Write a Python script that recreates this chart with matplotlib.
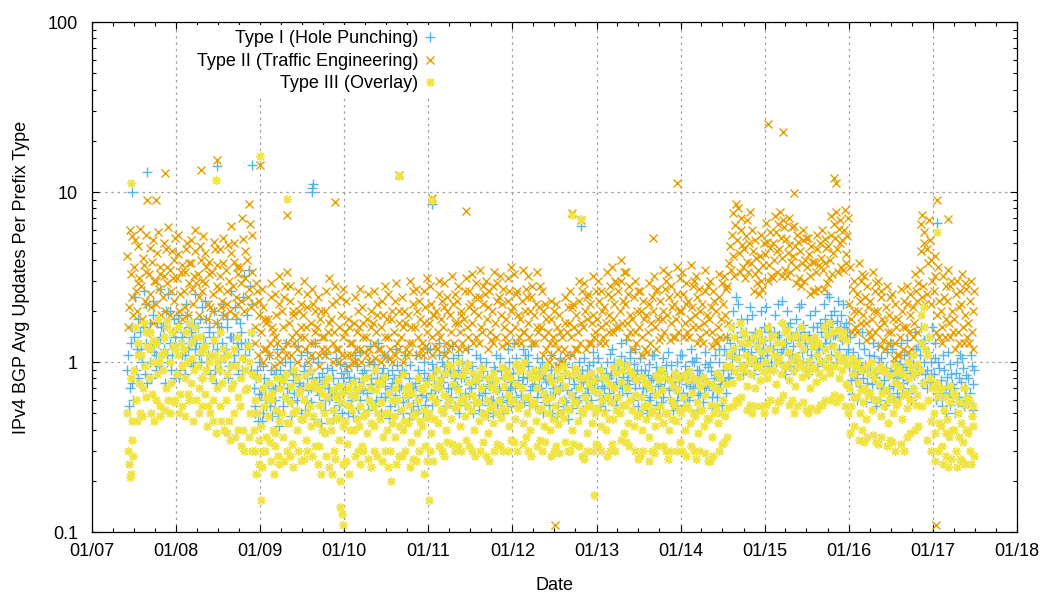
import datetime as dt
import matplotlib
matplotlib.use('Agg')
import matplotlib.pyplot as plt
import matplotlib.dates as mdates
from matplotlib.ticker import LogLocator, FixedLocator, NullFormatter

# readings, four per month per set
# set a: days 4, 11, 18, 25   set b: days 8, 15, 22, 28
# 2007 lists start in June, 2017 lists end in June
days_a = [4, 11, 18, 25]
days_b = [8, 15, 22, 28]

# Type I (Hole Punching)
t1_2007 = [0.9, 0.55, 1.3, 0.75, 1.4, 0.9, 1.8, 1.1, 1.2, 1.6, 0.85, 2.2, 1.5, 1.0, 1.3, 1.9,
           1.1, 1.7, 0.95, 1.4, 1.6, 1.2, 2.0, 1.0, 1.3, 0.9, 1.5, 1.8]
t1_2008 = [1.2, 1.7, 0.9, 1.4, 1.5, 1.1, 1.9, 1.3, 1.0, 1.4, 1.7, 1.2, 1.6, 1.2, 1.0, 2.1,
           1.3, 1.8, 1.1, 1.5, 1.1, 1.4, 0.9, 1.7, 1.5, 1.0, 1.3, 1.9, 1.2, 1.6, 0.95, 1.4,
           1.4, 1.1, 1.8, 1.2, 1.7, 1.3, 2.4, 1.1, 1.9, 1.2, 2.8, 1.5, 0.7, 0.55, 0.9, 0.65]
t1_2009 = [0.65, 0.5, 0.8, 0.6, 0.75, 0.55, 0.9, 0.68, 0.6, 0.85, 0.5, 0.72, 0.8, 0.62, 1.0, 0.7,
           0.7, 0.9, 0.58, 0.78, 0.85, 0.66, 0.75, 1.1, 0.72, 0.95, 0.6, 0.8, 0.9, 0.7, 1.05, 0.76,
           0.68, 0.82, 0.56, 0.74, 0.78, 0.6, 0.92, 0.7, 0.64, 0.8, 0.52, 0.7, 0.74, 0.58, 0.86, 0.66]
t1_2010 = [0.7, 0.88, 0.56, 0.76, 0.62, 0.8, 0.7, 0.95, 0.76, 0.6, 0.86, 0.68, 0.84, 0.66, 1.0, 0.74,
           0.7, 0.9, 0.6, 0.8, 0.78, 0.62, 0.92, 0.72, 0.66, 0.84, 0.55, 0.75, 0.8, 0.64, 0.96, 0.7,
           0.72, 0.58, 0.86, 0.66, 0.62, 0.8, 0.5, 0.7, 0.75, 0.6, 0.9, 0.68, 0.68, 0.86, 0.56, 0.78]
t1_2011 = [0.8, 0.66, 0.98, 0.74, 0.9, 0.7, 1.1, 0.82, 0.76, 0.95, 0.64, 0.86, 0.88, 0.7, 1.05, 0.8,
           0.72, 0.9, 0.62, 0.84, 0.82, 0.66, 0.98, 0.74, 0.7, 0.86, 0.58, 0.78, 0.78, 0.64, 0.92, 0.7,
           0.66, 0.82, 0.56, 0.74, 0.76, 0.6, 0.9, 0.68, 0.7, 0.88, 0.58, 0.8, 0.84, 0.68, 1.0, 0.76]
t1_2012 = [0.86, 0.7, 1.05, 0.78, 0.92, 0.74, 0.82, 1.1, 0.8, 0.95, 0.68, 0.86, 0.74, 0.88, 0.62, 0.8,
           0.7, 0.84, 0.58, 0.76, 0.78, 0.64, 0.9, 0.7, 0.66, 0.8, 0.55, 0.72, 0.72, 0.6, 0.86, 0.68,
           0.8, 0.66, 0.94, 0.74, 0.7, 0.86, 0.6, 0.78, 0.76, 0.64, 0.9, 0.7, 0.84, 0.7, 1.0, 0.78]
t1_2013 = [0.78, 0.64, 0.92, 0.72, 0.7, 0.86, 0.6, 0.8, 0.84, 0.7, 1.0, 0.76, 0.9, 0.74, 1.08, 0.82,
           0.96, 0.78, 0.86, 1.15, 0.82, 0.98, 0.7, 0.9, 0.76, 0.9, 0.64, 0.84, 0.7, 0.84, 0.6, 0.78,
           0.8, 0.66, 0.94, 0.72, 0.74, 0.88, 0.62, 0.8, 0.82, 0.68, 0.96, 0.76, 0.72, 0.86, 0.6, 0.78]
t1_2014 = [0.8, 0.66, 0.95, 0.74, 0.86, 0.72, 1.02, 0.8, 0.76, 0.9, 0.64, 0.84, 0.82, 0.7, 0.98, 0.76,
           0.74, 0.88, 0.62, 0.8, 0.84, 0.7, 1.0, 0.78, 0.9, 0.76, 1.1, 0.82, 1.3, 1.05, 1.6, 1.2,
           1.4, 1.1, 1.8, 1.25, 1.2, 1.5, 1.0, 1.35, 1.15, 1.4, 0.95, 1.25, 1.3, 1.05, 1.5, 1.2]
t1_2015 = [1.35, 1.1, 1.6, 1.25, 1.2, 1.5, 1.0, 1.4, 1.45, 1.15, 1.7, 1.3, 1.3, 1.6, 1.1, 1.4,
           1.25, 1.05, 1.5, 1.35, 1.4, 1.15, 1.65, 1.3, 1.2, 1.45, 1.0, 1.3, 1.35, 1.1, 1.6, 1.25,
           1.5, 1.2, 1.8, 1.4, 1.6, 1.3, 1.9, 1.45, 1.45, 1.75, 1.2, 1.6, 1.35, 1.6, 1.1, 1.5]
t1_2016 = [0.95, 0.78, 1.15, 0.88, 0.85, 1.05, 0.72, 0.92, 0.8, 0.96, 0.68, 0.88, 0.9, 0.74, 1.08, 0.82,
           0.86, 1.0, 0.7, 0.94, 0.78, 0.92, 0.66, 0.84, 0.88, 0.72, 1.02, 0.8, 0.82, 0.98, 0.7, 0.9,
           0.94, 0.78, 1.1, 0.86, 1.0, 0.84, 1.2, 0.92, 1.1, 0.9, 1.3, 1.0, 0.9, 1.15, 0.76, 1.0]
t1_2017 = [0.85, 1.05, 0.7, 0.92, 0.78, 0.62, 0.9, 0.72, 0.82, 0.66, 0.98, 0.74, 0.7, 0.86, 0.58, 0.8,
           0.76, 0.92, 0.62, 0.84, 0.8, 0.66, 0.95, 0.74]

t1b_2007 = [1.1, 0.7, 1.6, 0.6, 2.4, 1.2, 0.8, 1.5, 1.0, 2.6, 1.3, 0.75, 1.7, 0.8, 2.3, 1.15,
            0.9, 1.3, 2.7, 1.6, 1.4, 0.75, 1.1, 2.5, 2.0, 1.1, 0.8, 1.4]
t1b_2008 = [1.9, 0.8, 1.3, 1.1, 0.85, 2.2, 1.2, 1.6, 1.5, 0.95, 2.5, 1.3, 1.1, 1.8, 0.8, 1.4,
            2.3, 1.0, 1.6, 0.85, 1.3, 2.0, 0.75, 1.2, 0.9, 1.6, 2.2, 1.1, 1.8, 0.8, 1.4, 2.6,
            1.0, 2.1, 1.3, 0.85, 1.5, 0.9, 3.2, 1.3, 1.3, 3.5, 0.9, 2.2, 0.5, 0.8, 0.45, 1.0]
t1b_2009 = [0.45, 0.95, 0.7, 0.55, 1.1, 0.6, 0.48, 0.85, 0.7, 1.2, 0.42, 0.9, 0.55, 0.78, 1.3, 0.62,
            1.0, 0.48, 0.85, 0.66, 0.6, 1.25, 0.72, 0.5, 0.88, 0.52, 1.15, 0.68, 0.58, 0.8, 0.46, 1.3,
            1.0, 0.64, 0.44, 0.86, 0.52, 1.12, 0.7, 0.6, 0.9, 0.46, 0.66, 1.05, 0.56, 0.98, 0.5, 0.8]
t1b_2010 = [0.95, 0.5, 0.82, 0.6, 0.48, 1.1, 0.66, 0.54, 1.15, 0.7, 0.5, 0.9, 0.6, 0.52, 1.25, 0.8,
            0.98, 0.55, 0.74, 1.3, 0.5, 0.86, 1.1, 0.62, 1.05, 0.47, 0.7, 0.9, 0.58, 1.2, 0.52, 0.84,
            0.9, 0.5, 1.1, 0.62, 0.46, 0.96, 0.72, 0.55, 1.1, 0.52, 0.8, 0.64, 0.5, 1.0, 0.62, 1.2]
t1b_2011 = [1.2, 0.56, 0.9, 0.68, 0.6, 1.3, 0.76, 1.0, 1.15, 0.55, 0.98, 0.7, 0.62, 1.25, 0.74, 0.55,
            1.1, 0.5, 0.8, 1.0, 0.56, 0.92, 1.2, 0.64, 0.95, 0.5, 0.76, 1.1, 0.52, 1.05, 0.6, 0.88,
            1.0, 0.48, 0.72, 0.6, 0.5, 0.94, 1.1, 0.56, 1.05, 0.62, 0.5, 0.92, 0.6, 1.2, 0.7, 0.55]
t1b_2012 = [1.3, 0.62, 0.95, 0.56, 0.64, 1.2, 0.58, 1.0, 1.1, 0.56, 1.25, 0.72, 0.55, 1.05, 0.68, 0.92,
            1.0, 0.5, 0.84, 0.62, 0.56, 1.1, 0.5, 0.8, 0.94, 0.48, 0.68, 1.05, 0.52, 0.98, 0.58, 0.46,
            1.1, 0.54, 0.82, 0.62, 0.58, 1.0, 0.5, 0.9, 1.05, 0.55, 0.66, 0.96, 0.6, 1.15, 0.7, 0.52]
t1b_2013 = [1.05, 0.55, 0.82, 0.6, 0.52, 1.0, 0.66, 1.12, 1.2, 0.6, 0.9, 0.56, 0.64, 1.3, 0.7, 1.0,
            1.35, 0.66, 0.74, 1.05, 0.6, 1.2, 0.85, 0.55, 1.05, 0.52, 0.7, 0.9, 0.5, 0.98, 0.62, 1.1,
            1.1, 0.56, 0.86, 0.5, 0.58, 1.05, 0.7, 0.96, 1.15, 0.6, 0.82, 0.52, 0.55, 1.0, 0.66, 1.1]
t1b_2014 = [1.1, 0.56, 0.86, 0.62, 0.6, 1.2, 0.7, 1.0, 1.05, 0.52, 0.9, 0.66, 0.58, 1.15, 0.72, 0.94,
            1.0, 0.54, 0.68, 1.1, 0.62, 1.2, 0.74, 0.56, 1.2, 0.66, 1.4, 0.8, 0.9, 2.0, 1.1, 2.4,
            2.2, 0.95, 1.5, 0.85, 0.9, 1.8, 1.1, 2.1, 1.9, 0.85, 1.5, 1.0, 0.95, 2.0, 1.15, 1.6]
t1b_2015 = [2.1, 0.95, 1.5, 1.0, 0.9, 1.9, 1.1, 2.2, 1.0, 2.3, 1.2, 0.85, 2.0, 0.95, 1.7, 1.1,
            0.9, 1.8, 1.0, 2.1, 2.2, 1.0, 1.5, 0.9, 0.85, 1.9, 1.1, 1.6, 2.0, 0.95, 1.2, 1.7,
            1.0, 2.2, 1.3, 2.5, 2.4, 1.1, 1.7, 2.0, 1.0, 2.3, 1.4, 1.9, 2.2, 1.0, 1.7, 1.2]
t1b_2016 = [1.4, 0.65, 1.0, 0.8, 0.6, 1.3, 0.95, 1.5, 1.2, 0.58, 0.75, 1.1, 0.62, 1.3, 0.8, 0.55,
            1.25, 0.6, 1.05, 0.7, 0.56, 1.15, 0.7, 1.3, 1.2, 0.6, 0.9, 0.66, 0.62, 1.3, 0.75, 1.1,
            1.35, 0.66, 1.0, 0.6, 0.7, 1.5, 0.86, 1.25, 1.6, 0.75, 1.35, 0.85, 0.7, 1.4, 0.85, 1.6]
t1b_2017 = [1.3, 0.6, 1.0, 0.66, 0.55, 1.1, 0.66, 0.5, 1.15, 0.56, 0.85, 0.62, 0.5, 1.0, 0.62, 1.1,
            1.05, 0.55, 0.7, 0.6, 0.58, 1.1, 0.52, 0.9]

# Type II (Traffic Engineering)
t2_2007 = [4.2, 2.1, 3.3, 5.5, 3.6, 2.6, 4.8, 3.1, 2.8, 4.1, 2.3, 3.4, 3.3, 2.5, 3.9, 5.2,
           3.0, 4.4, 2.7, 3.6, 2.4, 3.2, 4.6, 2.9, 3.5, 2.6, 3.1, 4.0]
t2_2008 = [3.1, 4.3, 2.5, 3.7, 2.6, 3.4, 5.0, 2.9, 3.8, 2.7, 3.2, 4.5, 3.3, 2.4, 4.0, 3.0,
           2.9, 3.6, 2.2, 3.9, 3.4, 2.5, 4.6, 2.8, 2.7, 3.2, 2.3, 3.8, 3.5, 2.6, 3.0, 4.4,
           2.8, 3.9, 2.4, 3.3, 3.6, 2.9, 5.3, 3.1, 4.0, 2.7, 6.5, 3.4, 2.2, 1.6, 2.6, 1.9]
t2_2009 = [1.5, 2.1, 1.2, 1.7, 1.8, 1.3, 2.4, 1.5, 1.4, 1.9, 1.1, 2.2, 2.0, 1.6, 2.8, 1.3,
           1.7, 2.3, 1.4, 1.9, 1.5, 1.2, 2.0, 1.6, 1.9, 1.4, 1.6, 2.5, 1.3, 1.7, 2.2, 1.5,
           1.6, 1.1, 1.8, 1.4, 1.4, 2.0, 1.2, 1.7, 1.8, 1.3, 1.5, 2.3, 1.2, 1.6, 1.9, 1.4]
t2_2010 = [1.5, 1.1, 1.8, 1.3, 1.3, 1.7, 1.0, 1.5, 1.6, 1.2, 2.1, 1.4, 1.4, 1.8, 1.2, 1.6,
           1.7, 1.3, 1.5, 2.2, 1.2, 1.6, 1.9, 1.4, 1.8, 1.4, 1.2, 2.0, 1.5, 2.3, 1.3, 1.7,
           1.4, 1.6, 2.0, 1.2, 1.9, 1.3, 1.6, 2.6, 1.6, 2.0, 1.4, 1.8, 1.3, 1.7, 2.1, 1.5]
t2_2011 = [1.7, 2.2, 1.4, 1.9, 2.0, 1.5, 2.5, 1.8, 1.6, 2.1, 1.3, 2.4, 1.9, 1.5, 2.2, 1.7,
           2.3, 1.7, 1.5, 2.0, 1.8, 2.6, 1.6, 2.1, 2.2, 1.7, 2.0, 2.9, 1.9, 2.4, 1.6, 2.2,
           2.5, 1.8, 2.1, 1.5, 2.0, 2.8, 1.7, 2.3, 2.4, 1.9, 2.2, 1.6, 1.8, 2.3, 2.6, 2.0]
t2_2012 = [2.1, 1.6, 2.5, 1.9, 1.8, 2.3, 1.5, 2.0, 2.4, 1.7, 2.0, 2.8, 1.9, 2.2, 1.6, 2.1,
           1.6, 2.0, 1.4, 1.8, 1.5, 1.3, 1.8, 1.4, 1.3, 1.6, 1.2, 1.5, 1.4, 1.2, 1.7, 1.5,
           1.7, 1.4, 2.1, 1.6, 1.9, 1.5, 2.3, 1.7, 1.6, 2.0, 1.8, 2.5, 2.2, 1.7, 1.9, 1.5]
t2_2013 = [1.8, 2.3, 1.6, 2.0, 2.1, 1.7, 2.5, 1.9, 2.4, 1.8, 2.2, 2.9, 2.6, 2.0, 3.0, 2.3,
           2.2, 1.7, 2.5, 1.9, 1.8, 2.4, 1.5, 2.0, 1.6, 2.0, 1.4, 1.8, 1.9, 1.5, 2.2, 1.7,
           2.0, 1.6, 2.6, 1.8, 2.3, 1.8, 2.0, 2.7, 1.9, 2.4, 1.7, 2.1, 2.2, 1.8, 2.5, 2.0]
t2_2014 = [2.0, 2.5, 1.7, 2.2, 2.3, 1.8, 2.1, 2.8, 1.9, 2.4, 1.6, 2.0, 2.2, 1.7, 2.6, 1.9,
           1.8, 2.1, 1.5, 2.3, 2.0, 1.6, 2.4, 1.8, 2.2, 1.9, 2.7, 1.7, 4.8, 5.6, 4.2, 6.4,
           5.2, 4.4, 6.0, 4.9, 4.6, 5.5, 3.9, 5.0, 3.8, 4.5, 3.3, 4.1, 3.5, 4.2, 3.0, 3.7]
t2_2015 = [4.3, 5.1, 3.7, 4.7, 5.0, 4.0, 5.8, 4.5, 4.6, 5.4, 4.1, 6.2, 5.3, 4.4, 4.9, 3.9,
           4.2, 4.8, 3.6, 5.1, 4.5, 3.8, 5.2, 4.0, 3.6, 4.3, 3.2, 3.9, 3.9, 3.4, 4.6, 3.7,
           4.1, 3.5, 3.8, 4.7, 4.8, 4.0, 5.6, 4.4, 5.4, 4.6, 6.1, 5.0, 5.2, 6.0, 4.3, 5.5]
t2_2016 = [2.2, 1.8, 2.7, 2.0, 2.5, 2.0, 2.3, 3.0, 1.9, 2.4, 1.7, 2.1, 2.3, 1.8, 2.0, 2.6,
           2.0, 1.6, 2.4, 1.8, 1.7, 2.1, 1.5, 1.9, 1.5, 1.8, 1.3, 1.6, 1.8, 1.4, 2.0, 1.6,
           1.6, 2.2, 1.5, 1.9, 2.1, 1.7, 2.6, 2.3, 3.5, 4.5, 2.8, 5.0, 4.6, 3.8, 5.2, 4.0]
t2_2017 = [2.6, 3.2, 1.9, 2.3, 2.0, 1.6, 2.4, 1.8, 2.3, 1.7, 2.8, 2.0, 1.8, 2.5, 1.5, 2.1,
           2.2, 1.6, 1.9, 2.7, 1.7, 2.3, 1.5, 2.0]

t2b_2007 = [1.6, 6.0, 2.4, 1.9, 5.2, 2.0, 2.9, 6.1, 1.8, 3.7, 5.6, 2.2, 4.7, 2.1, 1.7, 3.0,
            2.2, 5.8, 3.3, 1.9, 5.0, 2.0, 3.6, 6.2, 1.9, 4.5, 2.3, 5.4]
t2b_2008 = [5.6, 2.0, 3.4, 1.8, 2.1, 4.6, 1.9, 3.8, 5.2, 2.2, 6.0, 2.9, 1.9, 4.8, 2.6, 5.5,
            4.4, 1.8, 3.3, 2.1, 2.0, 5.1, 1.7, 3.7, 4.6, 2.1, 5.4, 1.9, 2.2, 4.9, 2.0, 6.3,
            5.0, 1.9, 3.6, 2.2, 2.3, 7.0, 2.0, 4.5, 2.4, 8.5, 2.1, 5.6, 1.3, 2.9, 1.1, 2.3]
t2b_2009 = [2.7, 1.0, 1.8, 1.2, 1.1, 2.9, 1.6, 0.95, 2.5, 1.3, 3.2, 1.0, 1.2, 2.4, 1.1, 3.4,
            2.8, 1.1, 2.0, 1.3, 1.0, 2.6, 1.4, 2.2, 3.0, 1.2, 2.1, 1.0, 1.1, 2.7, 1.3, 2.0,
            2.4, 0.95, 2.0, 1.2, 1.1, 2.6, 1.5, 3.1, 2.2, 1.0, 2.8, 1.2, 1.0, 2.4, 1.1, 2.7]
t2b_2010 = [2.3, 0.95, 1.6, 1.1, 1.0, 2.4, 1.2, 2.0, 2.7, 1.0, 1.7, 1.15, 1.1, 2.5, 1.0, 2.0,
            2.6, 1.05, 1.9, 1.2, 1.0, 2.3, 1.1, 2.8, 2.5, 1.05, 1.8, 1.0, 1.1, 2.9, 1.2, 2.0,
            2.4, 1.0, 1.7, 1.1, 1.15, 3.0, 1.3, 2.2, 2.7, 1.1, 2.3, 1.2, 1.1, 2.6, 1.25, 3.1]
t2b_2011 = [2.8, 1.1, 1.9, 1.25, 1.2, 3.0, 1.4, 2.3, 2.9, 1.1, 2.0, 1.2, 1.25, 3.2, 1.3, 2.5,
            2.8, 1.2, 1.9, 1.3, 1.2, 3.1, 1.4, 2.6, 3.3, 1.3, 2.4, 1.4, 1.3, 3.5, 1.5, 2.8,
            3.0, 1.2, 2.6, 1.35, 1.3, 3.4, 1.4, 2.9, 3.2, 1.25, 2.7, 1.4, 1.3, 3.1, 1.5, 3.6]
t2b_2012 = [3.3, 1.3, 2.6, 1.4, 1.3, 3.5, 1.5, 2.7, 3.2, 1.4, 2.4, 1.3, 1.3, 3.4, 1.5, 2.8,
            2.6, 1.1, 2.2, 1.2, 1.0, 2.3, 1.1, 2.0, 2.2, 0.95, 1.9, 1.0, 1.0, 2.4, 1.1, 2.1,
            2.6, 1.1, 2.2, 1.2, 1.2, 3.0, 1.3, 2.6, 2.9, 1.2, 2.4, 1.3, 1.3, 3.2, 1.4, 2.6]
t2b_2013 = [3.0, 1.3, 2.6, 1.4, 1.3, 3.4, 1.5, 2.8, 3.6, 1.5, 3.0, 1.6, 1.6, 4.0, 1.7, 3.4,
            3.4, 1.4, 2.8, 1.5, 1.2, 3.0, 1.3, 2.6, 2.6, 1.1, 2.3, 1.2, 1.15, 2.9, 1.3, 2.4,
            3.2, 1.2, 2.7, 1.35, 1.4, 3.5, 1.5, 3.0, 3.3, 1.35, 2.8, 1.4, 1.4, 3.6, 1.5, 3.1]
t2b_2014 = [3.4, 1.4, 2.9, 1.5, 1.4, 3.7, 1.6, 3.0, 3.2, 1.3, 2.7, 1.4, 1.3, 3.5, 1.5, 2.8,
            3.0, 1.25, 2.6, 1.35, 1.3, 3.3, 1.4, 2.9, 3.2, 1.4, 2.8, 3.8, 3.5, 7.5, 3.2, 8.5,
            8.0, 3.4, 7.0, 3.6, 3.1, 6.8, 3.4, 7.6, 6.0, 2.6, 5.2, 2.9, 2.5, 5.6, 2.7, 5.0]
t2b_2015 = [6.6, 3.0, 5.8, 3.2, 3.1, 7.2, 3.4, 6.5, 7.6, 3.2, 6.8, 3.5, 3.2, 7.0, 3.4, 6.2,
            6.3, 2.9, 5.6, 3.1, 2.8, 6.0, 3.0, 5.4, 5.4, 2.5, 4.8, 2.6, 2.6, 5.6, 2.7, 5.0,
            6.0, 2.7, 5.3, 2.9, 3.1, 7.2, 3.3, 6.5, 7.6, 3.4, 6.8, 3.6, 3.5, 7.8, 3.8, 7.0]
t2b_2016 = [3.6, 1.5, 3.0, 1.6, 1.5, 3.8, 1.7, 3.3, 3.2, 1.35, 2.8, 1.5, 1.4, 3.4, 1.5, 2.9,
            3.0, 1.25, 2.6, 1.35, 1.2, 2.8, 1.3, 2.4, 2.5, 1.05, 2.2, 1.1, 1.1, 2.7, 1.2, 2.3,
            2.8, 1.15, 2.5, 1.2, 1.4, 3.3, 1.5, 2.9, 6.5, 2.4, 5.8, 2.2, 2.5, 6.8, 2.2, 3.0]
t2b_2017 = [4.2, 1.5, 3.6, 1.4, 1.3, 3.2, 1.4, 2.8, 3.5, 1.4, 3.0, 1.5, 1.2, 3.0, 1.3, 2.6,
            3.3, 1.3, 2.9, 1.4, 1.3, 3.0, 1.2, 2.6]

# Type III (Overlay)
t3_2007 = [0.5, 0.25, 0.8, 0.35, 0.9, 0.6, 1.3, 0.75, 1.1, 0.7, 0.95, 1.5, 0.8, 1.2, 0.65, 1.0,
           1.3, 0.85, 1.0, 0.55, 0.9, 1.15, 0.7, 1.6, 1.0, 0.75, 1.25, 0.6]
t3_2008 = [0.85, 1.1, 0.65, 0.95, 1.2, 0.8, 1.0, 0.6, 0.75, 1.05, 0.9, 1.4, 0.95, 0.7, 1.15, 0.8,
           0.65, 0.9, 0.55, 1.0, 0.8, 0.6, 1.1, 0.7, 0.9, 0.55, 0.75, 1.2, 0.6, 0.85, 0.45, 0.7,
           0.75, 0.5, 0.95, 0.62, 0.55, 0.8, 0.4, 0.68, 0.7, 1.0, 0.5, 0.85, 0.4, 0.3, 0.5, 0.35]
t3_2009 = [0.42, 0.3, 0.55, 0.36, 0.48, 0.34, 0.6, 0.4, 0.38, 0.52, 0.28, 0.45, 0.5, 0.36, 0.62, 0.44,
           0.44, 0.58, 0.33, 0.5, 0.52, 0.4, 0.66, 0.46, 0.46, 0.6, 0.35, 0.5, 0.55, 0.42, 0.48, 0.7,
           0.44, 0.32, 0.56, 0.4, 0.5, 0.38, 0.62, 0.45, 0.4, 0.52, 0.3, 0.46, 0.47, 0.35, 0.58, 0.42]
t3_2010 = [0.45, 0.33, 0.56, 0.4, 0.52, 0.4, 0.62, 0.46, 0.42, 0.55, 0.32, 0.48, 0.5, 0.38, 0.6, 0.44,
           0.55, 0.42, 0.68, 0.5, 0.46, 0.58, 0.36, 0.5, 0.4, 0.5, 0.3, 0.44, 0.48, 0.36, 0.6, 0.42,
           0.52, 0.4, 0.45, 0.64, 0.44, 0.56, 0.34, 0.48, 0.5, 0.38, 0.6, 0.45, 0.42, 0.52, 0.32, 0.47]
t3_2011 = [0.5, 0.38, 0.62, 0.46, 0.58, 0.44, 0.7, 0.52, 0.5, 0.64, 0.4, 0.56, 0.6, 0.46, 0.74, 0.54,
           0.55, 0.68, 0.42, 0.6, 0.62, 0.48, 0.56, 0.76, 0.52, 0.64, 0.4, 0.58, 0.58, 0.45, 0.7, 0.5,
           0.48, 0.6, 0.38, 0.54, 0.56, 0.44, 0.68, 0.5, 0.6, 0.47, 0.54, 0.72, 0.52, 0.64, 0.42, 0.58]
t3_2012 = [0.6, 0.46, 0.74, 0.54, 0.56, 0.7, 0.44, 0.62, 0.5, 0.62, 0.4, 0.56, 0.58, 0.45, 0.7, 0.52,
           0.54, 0.66, 0.42, 0.6, 0.5, 0.4, 0.62, 0.46, 0.55, 0.68, 0.43, 0.5, 0.6, 0.47, 0.72, 0.54,
           0.52, 0.64, 0.4, 0.58, 0.58, 0.45, 0.7, 0.52, 0.5, 0.62, 0.38, 0.55, 0.56, 0.44, 0.68, 0.5]
t3_2013 = [0.54, 0.66, 0.42, 0.6, 0.5, 0.4, 0.62, 0.46, 0.58, 0.46, 0.7, 0.52, 0.62, 0.5, 0.76, 0.56,
           0.56, 0.7, 0.44, 0.6, 0.52, 0.42, 0.64, 0.48, 0.5, 0.62, 0.4, 0.55, 0.46, 0.56, 0.36, 0.5,
           0.52, 0.42, 0.64, 0.48, 0.55, 0.68, 0.44, 0.5, 0.5, 0.4, 0.6, 0.46, 0.56, 0.45, 0.68, 0.52]
t3_2014 = [0.5, 0.62, 0.4, 0.55, 0.54, 0.44, 0.66, 0.5, 0.48, 0.58, 0.38, 0.52, 0.52, 0.42, 0.64, 0.47,
           0.46, 0.56, 0.36, 0.5, 0.55, 0.44, 0.68, 0.5, 0.6, 0.48, 0.74, 0.54, 0.95, 0.75, 1.2, 0.88,
           1.05, 0.82, 1.3, 0.95, 0.9, 1.1, 0.72, 1.0, 0.85, 1.05, 0.7, 0.95, 0.95, 0.78, 1.15, 0.88]
t3_2015 = [1.0, 0.8, 1.2, 0.9, 0.9, 1.1, 0.74, 1.0, 1.05, 0.85, 1.3, 0.95, 0.95, 1.15, 0.78, 1.02,
           0.88, 0.72, 1.08, 0.95, 1.0, 0.82, 1.2, 0.92, 0.85, 1.02, 0.7, 0.92, 0.92, 0.76, 1.1, 0.86,
           1.0, 0.82, 1.2, 0.94, 1.05, 0.86, 0.95, 1.25, 0.95, 1.12, 0.8, 1.02, 0.9, 1.05, 0.74, 0.98]
t3_2016 = [0.7, 0.55, 0.85, 0.62, 0.62, 0.76, 0.5, 0.68, 0.58, 0.7, 0.46, 0.64, 0.66, 0.52, 0.8, 0.6,
           0.6, 0.74, 0.48, 0.66, 0.55, 0.68, 0.44, 0.6, 0.62, 0.5, 0.76, 0.56, 0.58, 0.72, 0.46, 0.64,
           0.66, 0.54, 0.8, 0.6, 0.7, 0.85, 0.56, 0.64, 0.9, 1.3, 0.75, 1.6, 1.1, 0.6, 0.8, 0.45]
t3_2017 = [0.5, 0.38, 0.62, 0.44, 0.42, 0.32, 0.52, 0.38, 0.46, 0.36, 0.58, 0.4, 0.4, 0.3, 0.5, 0.36,
           0.44, 0.34, 0.56, 0.4, 0.38, 0.3, 0.48, 0.42]

t3b_2007 = [0.3, 0.21, 0.45, 0.28, 1.6, 0.45, 1.1, 0.5, 0.48, 1.7, 0.62, 1.25, 1.5, 0.5, 1.35, 0.45,
            0.6, 1.8, 0.48, 1.1, 1.4, 0.52, 1.75, 0.6, 0.5, 1.5, 0.58, 1.2]
t3b_2008 = [1.6, 0.5, 1.3, 0.55, 0.48, 1.5, 0.65, 1.7, 1.3, 0.45, 1.6, 0.6, 0.5, 1.4, 0.55, 1.2,
            1.25, 0.42, 1.1, 0.5, 0.45, 1.35, 0.38, 1.0, 1.5, 0.45, 1.05, 0.4, 0.38, 1.1, 0.35, 0.95,
            1.2, 0.36, 1.4, 0.4, 0.32, 1.05, 0.3, 0.9, 1.25, 0.36, 1.5, 0.3, 0.6, 0.22, 0.8, 0.25]
t3b_2009 = [0.24, 0.7, 0.3, 0.62, 0.75, 0.26, 0.66, 0.22, 0.32, 0.8, 0.25, 0.7, 0.78, 0.26, 0.85, 0.3,
            0.28, 0.72, 0.24, 0.9, 0.8, 0.3, 0.68, 0.26, 0.27, 0.84, 0.3, 0.72, 0.88, 0.28, 0.76, 0.32,
            0.25, 0.7, 0.22, 0.66, 0.75, 0.28, 0.8, 0.24, 0.22, 0.68, 0.27, 0.62, 0.72, 0.2, 0.66, 0.25]
t3b_2010 = [0.26, 0.7, 0.22, 0.64, 0.76, 0.28, 0.68, 0.3, 0.25, 0.72, 0.3, 0.8, 0.82, 0.27, 0.7, 0.24,
            0.3, 0.9, 0.28, 0.76, 0.74, 0.26, 0.82, 0.3, 0.24, 0.66, 0.2, 0.6, 0.7, 0.25, 0.78, 0.28,
            0.28, 0.85, 0.3, 0.7, 0.72, 0.24, 0.66, 0.27, 0.26, 0.8, 0.3, 0.7, 0.68, 0.22, 0.74, 0.26]
t3b_2011 = [0.3, 0.82, 0.26, 0.72, 0.9, 0.32, 0.78, 0.3, 0.28, 0.86, 0.34, 0.96, 0.95, 0.33, 0.85, 0.3,
            0.32, 1.0, 0.3, 0.84, 0.9, 0.35, 0.98, 0.32, 0.3, 0.86, 0.28, 0.78, 0.84, 0.3, 0.92, 0.34,
            0.28, 0.8, 0.26, 0.72, 0.86, 0.3, 0.78, 0.33, 0.32, 0.94, 0.3, 0.82, 0.88, 0.3, 0.8, 0.35]
t3b_2012 = [0.34, 0.98, 0.3, 0.88, 0.92, 0.33, 1.0, 0.36, 0.3, 0.86, 0.28, 0.8, 0.9, 0.32, 0.82, 0.35,
            0.3, 0.88, 0.34, 0.95, 0.82, 0.28, 0.76, 0.3, 0.32, 0.9, 0.29, 0.8, 0.95, 0.34, 0.86, 0.3,
            0.3, 0.84, 0.33, 0.92, 0.88, 0.32, 0.8, 0.28, 0.27, 0.82, 0.3, 0.74, 0.86, 0.3, 0.78, 0.33]
t3b_2013 = [0.32, 0.9, 0.3, 0.82, 0.8, 0.28, 0.74, 0.3, 0.33, 0.94, 0.3, 0.86, 1.0, 0.35, 0.9, 0.38,
            0.34, 0.96, 0.32, 0.88, 0.84, 0.3, 0.78, 0.27, 0.28, 0.82, 0.3, 0.76, 0.74, 0.26, 0.7, 0.3,
            0.29, 0.84, 0.32, 0.78, 0.9, 0.32, 0.82, 0.3, 0.27, 0.78, 0.3, 0.72, 0.86, 0.3, 0.8, 0.34]
t3b_2014 = [0.3, 0.84, 0.28, 0.78, 0.88, 0.32, 0.8, 0.3, 0.27, 0.78, 0.3, 0.72, 0.82, 0.29, 0.76, 0.26,
            0.26, 0.74, 0.28, 0.7, 0.86, 0.3, 0.8, 0.33, 0.34, 0.95, 0.36, 1.1, 1.6, 0.55, 1.4, 0.6,
            0.58, 1.7, 0.62, 1.5, 1.45, 0.52, 1.3, 0.56, 0.5, 1.4, 0.55, 1.25, 1.5, 0.55, 1.35, 0.5]
t3b_2015 = [0.56, 1.6, 0.6, 1.4, 1.45, 0.52, 1.3, 0.58, 0.6, 1.7, 0.64, 1.5, 1.55, 0.56, 1.4, 0.6,
            0.5, 1.45, 0.55, 1.3, 1.6, 0.58, 1.4, 0.52, 0.5, 1.35, 0.54, 1.25, 1.4, 0.52, 1.3, 0.56,
            0.56, 1.6, 0.6, 1.45, 1.7, 0.6, 1.5, 0.64, 0.58, 1.55, 0.62, 1.4, 1.5, 0.55, 1.35, 0.5]
t3b_2016 = [0.38, 1.05, 0.42, 0.95, 1.0, 0.35, 0.9, 0.4, 0.34, 0.95, 0.36, 0.86, 1.0, 0.37, 0.9, 0.34,
            0.33, 0.95, 0.36, 0.88, 0.9, 0.32, 0.84, 0.35, 0.34, 0.96, 0.3, 0.86, 0.92, 0.33, 0.85, 0.3,
            0.36, 1.0, 0.38, 0.92, 1.1, 0.4, 0.98, 0.42, 1.9, 0.55, 2.1, 1.2, 0.35, 1.4, 0.3, 0.7]
t3b_2017 = [0.26, 0.75, 0.3, 0.68, 0.7, 0.25, 0.62, 0.28, 0.24, 0.72, 0.27, 0.66, 0.64, 0.24, 0.58, 0.27,
            0.26, 0.7, 0.25, 0.62, 0.6, 0.25, 0.55, 0.28]

# isolated points away from the main bands
t1_out_dates = ['2007-06-25', '2007-08-26', '2008-06-28', '2008-11-25', '2009-04-05',
                '2009-08-12', '2009-08-14', '2009-08-16', '2011-01-15', '2012-10-27', '2017-01-18']
t1_out_vals = [10.0, 13.1, 14.2, 14.4, 53.0, 10.0, 10.6, 11.2, 8.5, 6.3, 6.6]
t2_out_dates = ['2007-08-26', '2007-10-08', '2007-11-12', '2008-04-20', '2008-06-28', '2008-12-30',
                '2009-04-05', '2009-04-08', '2009-04-27', '2009-11-20', '2010-08-28', '2011-01-15',
                '2011-06-14', '2012-07-05', '2012-09-18', '2012-10-27', '2013-09-01', '2013-12-18',
                '2015-01-15', '2015-03-22', '2015-05-08', '2015-10-30', '2015-11-08', '2016-11-14',
                '2017-01-18', '2017-03-08', '2017-01-15']
t2_out_vals = [9.0, 9.0, 13.0, 13.5, 15.4, 14.4, 45.0, 39.0, 7.3, 8.7, 12.6, 9.2,
               7.7, 0.11, 7.5, 6.8, 5.4, 11.3, 25.0, 22.6, 9.9, 12.1, 11.3, 7.3,
               9.0, 6.9, 0.11]
t3_out_dates = ['2007-06-18', '2007-06-20', '2008-06-22', '2009-01-01', '2009-01-05', '2009-04-02',
                '2009-04-05', '2009-04-27', '2009-12-15', '2009-12-24', '2009-12-28', '2010-08-28',
                '2011-01-02', '2011-01-15', '2012-09-18', '2012-10-27', '2012-12-20', '2017-01-18']
t3_out_vals = [11.3, 0.22, 11.8, 16.3, 0.155, 64.0, 58.0, 9.1, 0.14, 0.127, 0.11, 12.4,
               0.155, 9.0, 7.3, 6.9, 0.165, 5.8]

years = list(range(2007, 2018))


def collect(set_a, set_b, out_dates, out_vals):
    xs, ys = [], []
    for days, sets in ((days_a, set_a), (days_b, set_b)):
        for year, vals in zip(years, sets):
            m0 = 6 if year == 2007 else 1
            xs += [dt.datetime(year, m0 + i // 4, days[i % 4]) for i in range(len(vals))]
            ys += vals
    xs += [dt.datetime.strptime(d, '%Y-%m-%d') for d in out_dates]
    ys += out_vals
    return xs, ys


x1, y1 = collect([t1_2007, t1_2008, t1_2009, t1_2010, t1_2011, t1_2012, t1_2013, t1_2014,
                  t1_2015, t1_2016, t1_2017],
                 [t1b_2007, t1b_2008, t1b_2009, t1b_2010, t1b_2011, t1b_2012, t1b_2013, t1b_2014,
                  t1b_2015, t1b_2016, t1b_2017], t1_out_dates, t1_out_vals)
x2, y2 = collect([t2_2007, t2_2008, t2_2009, t2_2010, t2_2011, t2_2012, t2_2013, t2_2014,
                  t2_2015, t2_2016, t2_2017],
                 [t2b_2007, t2b_2008, t2b_2009, t2b_2010, t2b_2011, t2b_2012, t2b_2013, t2b_2014,
                  t2b_2015, t2b_2016, t2b_2017], t2_out_dates, t2_out_vals)
x3, y3 = collect([t3_2007, t3_2008, t3_2009, t3_2010, t3_2011, t3_2012, t3_2013, t3_2014,
                  t3_2015, t3_2016, t3_2017],
                 [t3b_2007, t3b_2008, t3b_2009, t3b_2010, t3b_2011, t3b_2012, t3b_2013, t3b_2014,
                  t3b_2015, t3b_2016, t3b_2017], t3_out_dates, t3_out_vals)

plt.rcParams['font.family'] = ['Liberation Sans', 'DejaVu Sans']
plt.rcParams['font.size'] = 13

fig = plt.figure(figsize=(10.5, 6), dpi=100)
ax = fig.add_axes([0.0876, 0.1133, 0.881, 0.85])

ax.plot(x1, y1, linestyle='none', marker='+', ms=6.5, mew=1.0, color='#56B4E9',
        label='Type I (Hole Punching)')
ax.plot(x2, y2, linestyle='none', marker='x', ms=5.5, mew=1.0, color='#E69F00',
        label='Type II (Traffic Engineering)')
ax.plot(x3, y3, linestyle='none', marker=(8, 2, 0), ms=6.5, mew=1.0, color='#F0E442',
        label='Type III (Overlay)')

ax.set_yscale('log')
ax.set_ylim(0.1, 100)
ax.yaxis.set_major_locator(FixedLocator([0.1, 1, 10, 100]))
ax.set_yticklabels(['0.1', '1', '10', '100'])
ax.yaxis.set_minor_locator(LogLocator(base=10, subs=range(2, 10)))
ax.yaxis.set_minor_formatter(NullFormatter())

ax.set_xlim(dt.datetime(2007, 1, 1), dt.datetime(2018, 1, 1))
ax.xaxis.set_major_locator(mdates.YearLocator())
ax.xaxis.set_major_formatter(mdates.DateFormatter('%m/%y'))
ax.xaxis.set_minor_locator(mdates.MonthLocator(bymonth=[4, 7, 10]))

ax.tick_params(which='both', direction='in', top=True, right=True, colors='black')
ax.tick_params(which='major', length=5, width=0.8)
ax.tick_params(which='minor', length=3, width=0.8)
ax.tick_params(axis='x', which='major', pad=8)
ax.tick_params(axis='y', which='major', pad=10)
ax.grid(True, which='major', linestyle=(0, (2, 3)), color='#a0a0a0', linewidth=0.9)
for s in ax.spines.values():
    s.set_linewidth(0.9)

ax.set_xlabel('Date', labelpad=12)
ax.set_ylabel('IPv4 BGP Avg Updates Per Prefix Type', labelpad=13)

leg = ax.legend(loc='upper right', bbox_to_anchor=(0.38, 0.994), markerfirst=False,
                frameon=True, fancybox=False, edgecolor='none', facecolor='white', framealpha=1,
                borderpad=0.3, labelspacing=0.3, handlelength=0.9, handletextpad=0.2,
                borderaxespad=0)
for t in leg.get_texts():
    t.set_ha('right')
leg._legend_box.align = 'right'

fig.savefig('out.png', dpi=100)
